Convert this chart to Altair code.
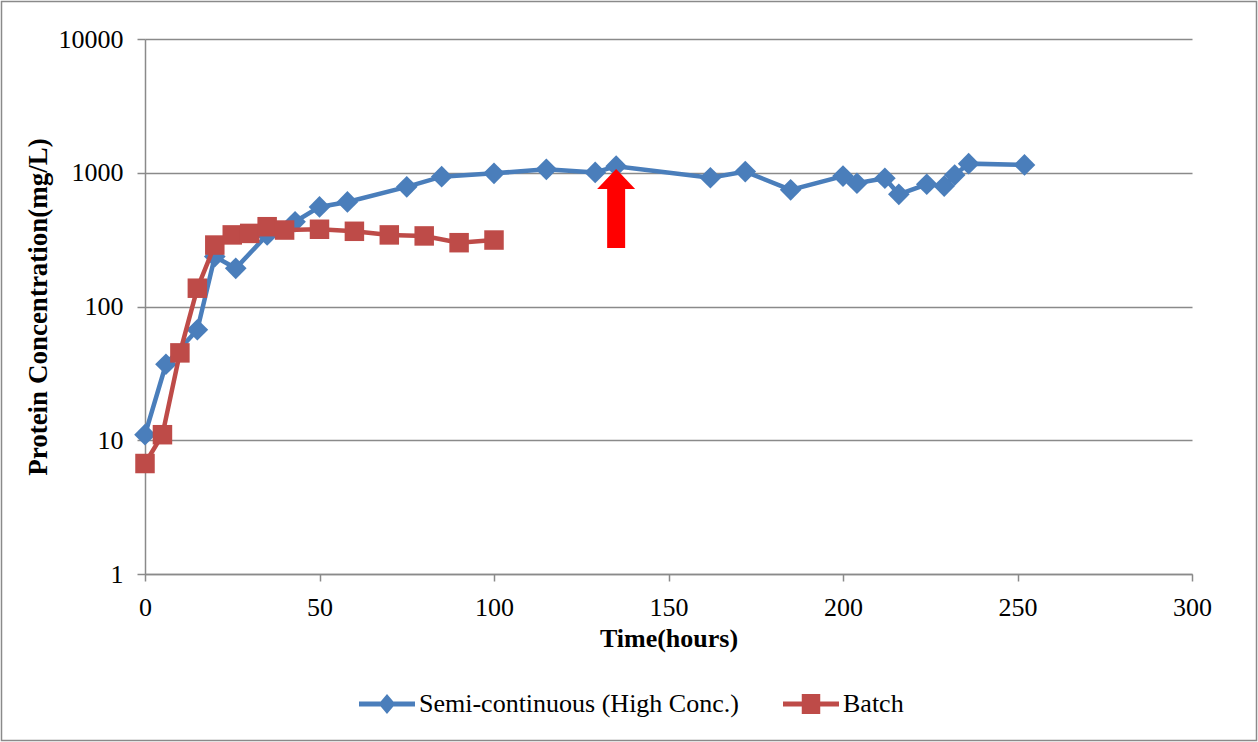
import altair as alt
import pandas as pd

# Semi-continuous run (high concentration feed)
semi_hours = [0, 6, 15, 20, 26, 35, 43, 50, 58, 75, 85, 100, 115, 129, 135,
              162, 172, 185, 200, 204, 212, 216, 224, 229, 232, 236, 252]
semi_conc = [11, 37, 67, 236, 193, 343, 430, 555, 605, 785, 935, 990, 1060, 1005, 1120,
             918, 1020, 745, 945, 835, 910, 690, 820, 795, 960, 1170, 1145]

# Batch run
batch_hours = [0, 5, 10, 15, 20, 25, 30, 35, 40, 50, 60, 70, 80, 90, 100]
batch_conc = [6.7, 11, 45, 137, 288, 343, 352, 395, 373, 378, 365, 343, 337, 300, 314]

series_names = ["Semi-continuous (High Conc.)", "Batch"]
series_colors = ["#4a7ebb", "#be4b48"]

# Arrow marking the feed switch
arrow_hour = [135]
arrow_tail = [274]
arrow_neck = [760]
arrow_head_mid = [899]

x_ticks = [0, 50, 100, 150, 200, 250, 300]
y_ticks = [1, 10, 100, 1000, 10000]

FONT = "Liberation Serif"
GRID = "#8a8a8a"

semi = pd.DataFrame({"hours": semi_hours, "conc": semi_conc, "series": series_names[0]})
batch = pd.DataFrame({"hours": batch_hours, "conc": batch_conc, "series": series_names[1]})
arrow = pd.DataFrame({"hours": arrow_hour, "tail": arrow_tail, "neck": arrow_neck,
                      "mid": arrow_head_mid})

x_enc = alt.X(
    "hours:Q",
    scale=alt.Scale(domain=[0, 300], nice=False, zero=False),
    axis=alt.Axis(
        values=x_ticks, title="Time(hours)", grid=False, labelFlush=False,
        labelFont=FONT, labelFontSize=26, labelColor="black", labelPadding=13,
        titleFont=FONT, titleFontSize=26, titleFontWeight="bold", titleColor="black",
        titlePadding=5, tickSize=7, tickColor=GRID, tickWidth=1.5,
        domainColor=GRID, domainWidth=1.5,
    ),
)
y_enc = alt.Y(
    "conc:Q",
    scale=alt.Scale(type="log", domain=[1, 10000], nice=False),
    axis=alt.Axis(
        values=y_ticks, format="d", title="Protein Concentration(mg/L)", grid=True,
        gridColor=GRID, gridWidth=1.5, labelFlush=False,
        labelFont=FONT, labelFontSize=26, labelColor="black", labelPadding=14,
        titleFont=FONT, titleFontSize=27, titleFontWeight="bold", titleColor="black",
        titlePadding=6, tickSize=8, tickColor=GRID, tickWidth=1.5,
        domainColor=GRID, domainWidth=1.5,
    ),
)

# Outer frame of the chart area
frame = alt.Chart(pd.DataFrame({"k": [0]})).mark_rect(
    fillOpacity=0, stroke=GRID, strokeWidth=1.5
).encode(
    x=alt.value(-143.5), x2=alt.value(1111.5), y=alt.value(-37.5), y2=alt.value(701.5)
)

def series_layers(df, color, shape, size):
    line = alt.Chart(df).mark_line(color=color, strokeWidth=4.5).encode(x=x_enc, y=y_enc)
    pts = alt.Chart(df).mark_point(
        shape=shape, filled=True, size=size, color=color, opacity=1, strokeWidth=0
    ).encode(x=x_enc, y=y_enc)
    return [line, pts]

semi_layers = series_layers(semi, series_colors[0], "diamond", 470)
batch_layers = series_layers(batch, series_colors[1], "square", 380)

# Legend glyphs: a line segment with the series marker on it
legend_diamond = ("M -1 -0.09 L 1 -0.09 L 1 0.09 L -1 0.09 Z "
                  "M -0.3 0 L 0 -0.36 L 0.3 0 L 0 0.36 Z")
legend_square = ("M -1 -0.09 L 1 -0.09 L 1 0.09 L -1 0.09 Z "
                 "M -0.33 -0.36 L 0.33 -0.36 L 0.33 0.36 L -0.33 0.36 Z")

legend_props = dict(
    orient="none", legendX=214, legendY=637, direction="horizontal", title=None,
    symbolSize=3136, symbolStrokeWidth=0, symbolOpacity=1,
    labelFont=FONT, labelFontSize=26, labelColor="black", labelOffset=4,
    labelLimit=1000, columnPadding=44, padding=0,
)
legend_layer = alt.Chart(pd.concat([semi, batch])).transform_filter("false").mark_point(
    filled=True, opacity=1
).encode(
    color=alt.Color("series:N", scale=alt.Scale(domain=series_names, range=series_colors),
                    legend=alt.Legend(**legend_props)),
    shape=alt.Shape("series:N", scale=alt.Scale(domain=series_names,
                                                range=[legend_diamond, legend_square]),
                    legend=alt.Legend(**legend_props)),
)

shaft = alt.Chart(arrow).mark_rule(color="#ff0000", strokeWidth=18).encode(
    x=alt.X("hours:Q"), y=alt.Y("tail:Q"), y2="neck:Q"
)
head = alt.Chart(arrow).mark_point(
    shape="M -1 0.526 L 1 0.526 L 0 -0.526 Z", filled=True, size=1444,
    color="#ff0000", opacity=1, strokeWidth=0
).encode(x=alt.X("hours:Q"), y=alt.Y("mid:Q"))

chart = alt.layer(
    frame, *semi_layers, *batch_layers, shaft, head, legend_layer
).properties(
    width=1047, height=535,
    autosize=alt.AutoSizeParams(type="none"),
    padding={"left": 145, "top": 39, "right": 66, "bottom": 168},
    background="white",
).configure_view(strokeWidth=0)

chart.save("out.html", embed_options={"renderer": "svg", "actions": False})
